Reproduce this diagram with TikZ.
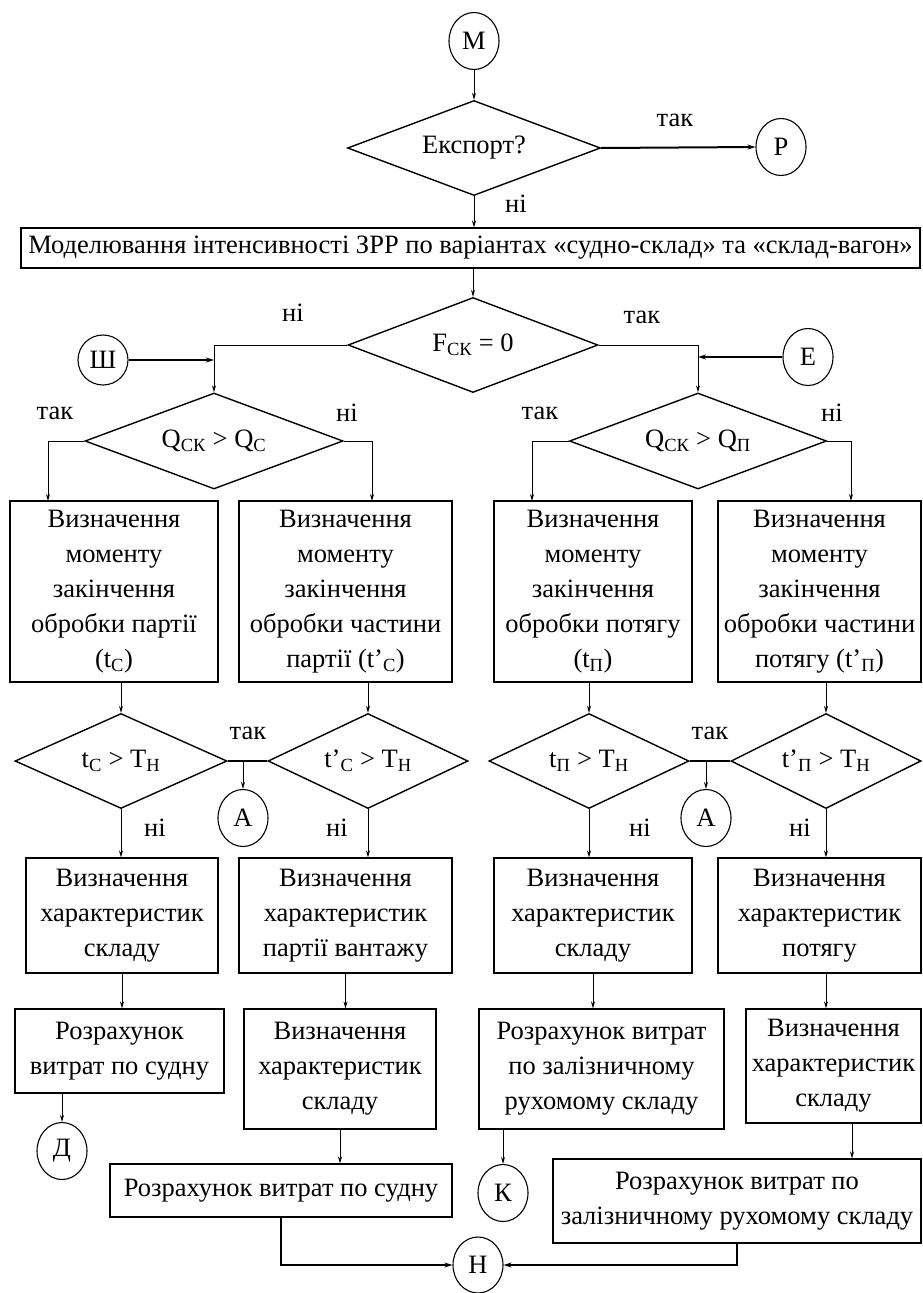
\documentclass[tikz,border=0pt]{standalone}
\usepackage{fontspec}
\setmainfont{Liberation Serif}
\usetikzlibrary{shapes.geometric,arrows.meta}

\begin{document}
\begin{tikzpicture}[x=1pt,y=-1pt,
  every node/.style={font=\fontsize{26.5}{35}\selectfont},
  box/.style={draw,line width=1.2pt,rectangle,inner sep=0pt,align=center},
  dec/.style={draw,diamond,line width=1.4pt,inner sep=0pt,aspect=2.5},
  conn/.style={draw,ellipse,line width=1.1pt,inner sep=0pt,minimum width=50pt,minimum height=57pt},
  lbl/.style={inner sep=0pt},
  flow/.style={line width=0.9pt,-{Stealth[length=7pt,width=4pt]}},
  heavy/.style={line width=2pt,-{Stealth[length=8pt,width=5pt]}},
  link/.style={line width=2.2pt}
]
\useasboundingbox (0,0) rectangle (922,1293);

% connectors (circles)
\node[conn] (M) at (474,41) {М};
\node[conn] (P) at (781,147) {Р};
\node[conn,minimum height=50pt] (Sh) at (103,360) {Ш};
\node[conn] (E) at (808,357) {Е};
\node[conn] (A1) at (243,818) {А};
\node[conn] (A2) at (706,818) {А};
\node[conn] (D) at (62,1151) {Д};
\node[conn] (K) at (503,1193) {К};
\node[conn,minimum height=56pt] (H) at (478,1265) {Н};

% decisions
\node[dec,minimum width=253pt,minimum height=95pt] (dE) at (474,148) {Експорт?};
\node[dec,minimum width=250pt,minimum height=95pt] (dF) at (473,345) {F\textsubscript{СК} = 0};
\node[dec,minimum width=258pt,minimum height=96pt] (dQC) at (214,441) {Q\textsubscript{СК} > Q\textsubscript{С}};
\node[dec,minimum width=257pt,minimum height=96pt] (dQP) at (698,441) {Q\textsubscript{СК} > Q\textsubscript{П}};
\node[dec,aspect=2.2,minimum width=212pt,minimum height=95pt] (dtC) at (121,761) {t\textsubscript{С} > T\textsubscript{Н}};
\node[dec,aspect=2.1,minimum width=200pt,minimum height=95pt] (dtC2) at (368,761) {t’\textsubscript{С} > T\textsubscript{Н}};
\node[dec,aspect=2.1,minimum width=200pt,minimum height=95pt] (dtP) at (589,761) {t\textsubscript{П} > T\textsubscript{Н}};
\node[dec,aspect=2,minimum width=190pt,minimum height=95pt] (dtP2) at (826,761) {t’\textsubscript{П} > T\textsubscript{Н}};

% process boxes
\node[box,minimum width=899pt,minimum height=40pt] (wide) at (470.5,248)
  {Моделювання інтенсивності ЗРР по варіантах «судно-склад» та «склад-вагон»};
\node[box,minimum width=208pt,minimum height=181pt] (b1) at (114,591.5)
  {Визначення\\моменту\\закінчення\\обробки партії\\(t\textsubscript{С})};
\node[box,minimum width=213pt,minimum height=181pt] (b2) at (345.5,591.5)
  {Визначення\\моменту\\закінчення\\обробки частини\\партії (t’\textsubscript{С})};
\node[box,minimum width=198pt,minimum height=181pt] (b3) at (593,591.5)
  {Визначення\\моменту\\закінчення\\обробки потягу\\(t\textsubscript{П})};
\node[box,minimum width=203pt,minimum height=181pt] (b4) at (819.5,591.5)
  {Визначення\\моменту\\закінчення\\обробки частини\\потягу (t’\textsubscript{П})};
\node[box,minimum width=192pt,minimum height=115pt] (b5) at (122,915.5)
  {Визначення\\характеристик\\складу};
\node[box,minimum width=213pt,minimum height=115pt] (b6) at (345.5,915.5)
  {Визначення\\характеристик\\партії вантажу};
\node[box,minimum width=198pt,minimum height=115pt] (b7) at (593,915.5)
  {Визначення\\характеристик\\складу};
\node[box,minimum width=203pt,minimum height=115pt] (b8) at (819.5,915.5)
  {Визначення\\характеристик\\потягу};
\node[box,minimum width=209pt,minimum height=84pt] (b9) at (119.5,1051)
  {Розрахунок\\витрат по судну};
\node[box,minimum width=192pt,minimum height=120pt] (b10) at (340,1069)
  {Визначення\\характеристик\\складу};
\node[box,minimum width=342pt,minimum height=53pt] (b11) at (281,1190.5)
  {Розрахунок витрат по судну};
\node[box,minimum width=245pt,minimum height=120pt] (b12) at (601.5,1069)
  {Розрахунок витрат\\по залізничному\\рухомому складу};
\node[box,minimum width=175pt,minimum height=114pt] (b13) at (833.5,1066)
  {Визначення\\характеристик\\складу};
\node[box,minimum width=368pt,minimum height=84pt] (b14) at (737,1201)
  {Розрахунок витрат по\\залізничному рухомому складу};

% branch labels
\node[lbl] (l1) at (675,120) {так};
\node[lbl] (l2) at (516,204) {ні};
\node[lbl] (l3) at (293,313) {ні};
\node[lbl] (l4) at (642,317) {так};
\node[lbl] (l5) at (55,413) {так};
\node[lbl] (l6) at (347,413) {ні};
\node[lbl] (l7) at (540,413) {так};
\node[lbl] (l8) at (832,413) {ні};
\node[lbl] (l9) at (248,733) {так};
\node[lbl] (l10) at (710,733) {так};
\node[lbl] (l11) at (155,828) {ні};
\node[lbl] (l12) at (337,828) {ні};
\node[lbl] (l13) at (640,828) {ні};
\node[lbl] (l14) at (800,828) {ні};

% entry points on box edges
\coordinate (b1in) at (48,501);
\coordinate (b2in) at (372,501);
\coordinate (b3in) at (532,501);
\coordinate (b4in) at (851,501);
\coordinate (b13out) at (852,1123);

% flow lines
\draw[flow] (M) -- (dE.north);
\draw[heavy] (dE.east) -- (P.west);
\draw[flow] (dE.south) -- (dE.south |- wide.north);
\draw[flow] (wide.south -| dF.north) -- (dF.north);
\draw[flow] (dF.west) -| (dQC.north);
\draw[heavy] (Sh.east) -- (Sh.east -| dQC.north);
\draw[flow] (dF.east) -| (dQP.north);
\draw[heavy] (E.west) -- (E.west -| dQP.north);
\draw[flow] (dQC.west) -| (b1in);
\draw[flow] (dQC.east) -| (b2in);
\draw[flow] (dQP.west) -| (b3in);
\draw[flow] (dQP.east) -| (b4in);
\draw[flow] (dtC.north |- b1.south) -- (dtC.north);
\draw[flow] (dtC2.north |- b2.south) -- (dtC2.north);
\draw[flow] (dtP.north |- b3.south) -- (dtP.north);
\draw[flow] (dtP2.north |- b4.south) -- (dtP2.north);
\draw[link] (dtC.east) -- (dtC2.west);
\draw[flow] (A1.north |- dtC.east) -- (A1.north);
\draw[link] (dtP.east) -- (dtP2.west);
\draw[flow] (A2.north |- dtP.east) -- (A2.north);
\draw[flow] (dtC.south) -- (dtC.south |- b5.north);
\draw[flow] (dtC2.south) -- (dtC2.south |- b6.north);
\draw[flow] (dtP.south) -- (dtP.south |- b7.north);
\draw[flow] (dtP2.south) -- (dtP2.south |- b8.north);
\draw[flow] (b5.south) -- (b5.south |- b9.north);
\draw[flow] (D.north |- b9.south) -- (D.north);
\draw[flow] (b6.south) -- (b6.south |- b10.north);
\draw[flow] (b10.south) -- (b10.south |- b11.north);
\draw[heavy] (b11.south) |- (H.west);
\draw[flow] (b7.south) -- (b7.south |- b12.north);
\draw[flow] (K.north |- b12.south) -- (K.north);
\draw[flow] (dtP2.south |- b8.south) -- (dtP2.south |- b13.north);
\draw[flow] (b13out) -- (b13out |- b14.north);
\draw[heavy] (b14.south) |- (H.east);
\end{tikzpicture}
\end{document}
